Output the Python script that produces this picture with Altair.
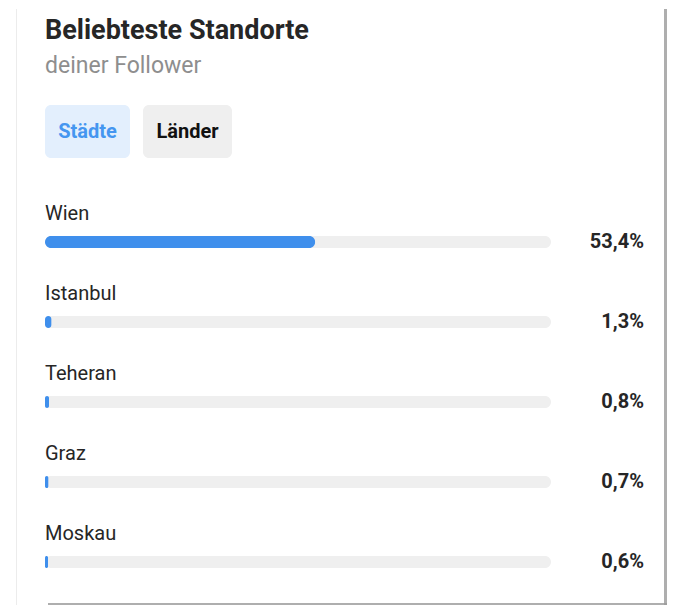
import altair as alt
import pandas as pd

cities = ["Wien", "Istanbul", "Teheran", "Graz", "Moskau"]
shares = [53.4, 1.3, 0.8, 0.7, 0.6]
share_labels = ["53,4%", "1,3%", "0,8%", "0,7%", "0,6%"]
title_text = "Beliebteste Standorte"
subtitle_text = "deiner Follower"
tab_labels = ["Städte", "Länder"]

df = pd.DataFrame({
    "city": cities,
    "share": shares,
    "label": share_labels,
    "idx": list(range(len(cities))),
    "full": [100] * len(cities),
})

FONT = "Roboto"
W, H = 659, 597

xs = alt.Scale(domain=[0, 100], range=[37, 543], padding=0, nice=False, zero=True)
ys = alt.Scale(domain=[0, 4], range=[233, 553], padding=0, nice=False, zero=False)
one = alt.Data(values=[{}])

track = alt.Chart(df).mark_bar(color="#efefef", height=12, cornerRadius=6).encode(
    x=alt.X("full:Q", scale=xs, axis=None), x2=alt.value(37),
    y=alt.Y("idx:Q", scale=ys, axis=None),
)
bars = alt.Chart(df).mark_bar(color="#3f8fec", height=12, cornerRadius=6).encode(
    x=alt.X("share:Q", scale=xs, axis=None), x2=alt.value(37),
    y=alt.Y("idx:Q", scale=ys, axis=None),
)
names = alt.Chart(df).mark_text(
    align="left", baseline="alphabetic", dy=-22, font=FONT, fontSize=20, color="#262626"
).encode(
    x=alt.value(37), y=alt.Y("idx:Q", scale=ys, axis=None), text="city:N"
)
vals = alt.Chart(df).mark_text(
    align="right", baseline="alphabetic", dy=6, font=FONT, fontSize=20, fontWeight="bold", color="#262626"
).encode(
    x=alt.value(636), y=alt.Y("idx:Q", scale=ys, axis=None), text="label:N"
)

title = alt.Chart(one).mark_text(
    text=title_text, align="left", baseline="alphabetic", font=FONT, fontSize=27,
    fontWeight="bold", color="#262626"
).encode(x=alt.value(37), y=alt.value(30))
subtitle = alt.Chart(one).mark_text(
    text=subtitle_text, align="left", baseline="alphabetic", font=FONT, fontSize=23,
    color="#8e8e8e"
).encode(x=alt.value(37), y=alt.value(64))

btn1 = alt.Chart(one).mark_rect(color="#e3effd", cornerRadius=6).encode(
    x=alt.value(37), x2=alt.value(122), y=alt.value(96), y2=alt.value(149))
btn2 = alt.Chart(one).mark_rect(color="#efefef", cornerRadius=6).encode(
    x=alt.value(135), x2=alt.value(224), y=alt.value(96), y2=alt.value(149))
btn1t = alt.Chart(one).mark_text(
    text=tab_labels[0], align="center", baseline="middle", font=FONT, fontSize=20,
    fontWeight="bold", color="#4596f0"
).encode(x=alt.value(79.5), y=alt.value(123))
btn2t = alt.Chart(one).mark_text(
    text=tab_labels[1], align="center", baseline="middle", font=FONT, fontSize=20,
    fontWeight="bold", color="#111111"
).encode(x=alt.value(179.5), y=alt.value(123))

left_edge = alt.Chart(one).mark_rule(color="#ececec", strokeWidth=1).encode(
    x=alt.value(8.5), y=alt.value(0), y2=alt.value(H))
right_sh = alt.Chart(one).mark_rect(color="#9a9a9a", opacity=0.8).encode(
    x=alt.value(656), x2=alt.value(659), y=alt.value(0), y2=alt.value(H))
bottom_sh = alt.Chart(one).mark_rect(color="#9a9a9a", opacity=0.8).encode(
    x=alt.value(40), x2=alt.value(659), y=alt.value(594), y2=alt.value(597))

chart = alt.layer(
    left_edge, right_sh, bottom_sh, title, subtitle, btn1, btn2, btn1t, btn2t,
    track, bars, names, vals
).properties(
    width=W, height=H, background="white", padding=0,
    autosize=alt.AutoSizeParams(type="fit", contains="padding"),
).configure_view(stroke=None)

chart.save("out.html", embed_options={"renderer": "svg", "actions": False})
